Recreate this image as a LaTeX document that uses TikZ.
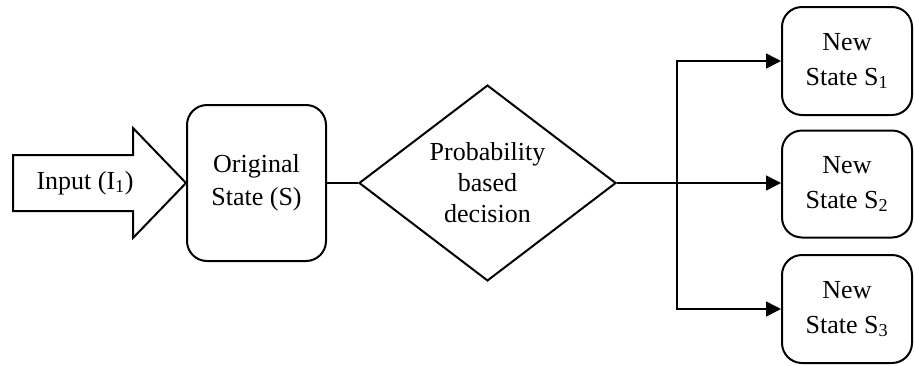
\documentclass[tikz,border=0pt]{standalone}
\usepackage{fontspec}
\setmainfont{Liberation Serif}
\usetikzlibrary{shapes.geometric,arrows.meta}
\begin{document}
\begin{tikzpicture}[x=1pt,y=-1pt,
  lbl/.style={font=\fontsize{26}{33}\selectfont, align=center, inner sep=0pt},
  statebox/.style={draw, line width=2pt, rounded corners=20pt, lbl},
  decide/.style={draw, line width=2pt, diamond, lbl, minimum width=257pt, minimum height=186pt},
  link/.style={line width=1.6pt},
  arr/.style={link, -{Triangle[length=15pt,width=15pt]}}]
  \useasboundingbox (0,0) rectangle (914,365);

  % block arrow carrying the input
  \draw[line width=2pt, line join=miter]
    (13,155) -- (133,155) -- (133,128) -- (186,183) -- (133,238) -- (133,211) -- (13,211) -- cycle;
  \node[lbl] (input) at (85,183) {Input (I\textsubscript{1})};

  % states and decision
  \node[statebox, minimum width=139pt, minimum height=156pt] (orig) at (256.5,183) {Original\\State (S)};
  \node[decide, font=\fontsize{26}{31}\selectfont] (dec) at (487.5,183) {Probability\\based\\decision};
  \node[statebox, font=\fontsize{26}{35}\selectfont, minimum width=130pt, minimum height=108pt] (s1) at (847,61) {New\\State S\textsubscript{1}};
  \node[statebox, font=\fontsize{26}{35}\selectfont, minimum width=130pt, minimum height=107pt] (s2) at (847,184) {New\\State S\textsubscript{2}};
  \node[statebox, font=\fontsize{26}{35}\selectfont, minimum width=130pt, minimum height=108pt] (s3) at (847,309) {New\\State S\textsubscript{3}};

  % connectors
  \coordinate (fork) at (677,183);
  \draw[link] (orig.east) -- (dec.west);
  \draw[link] (dec.east) -- (fork);
  \draw[arr] (fork) -- (fork -| s2.west);
  \draw[arr] (fork) |- (s1.west);
  \draw[arr] (fork) |- (s3.west);
\end{tikzpicture}
\end{document}
